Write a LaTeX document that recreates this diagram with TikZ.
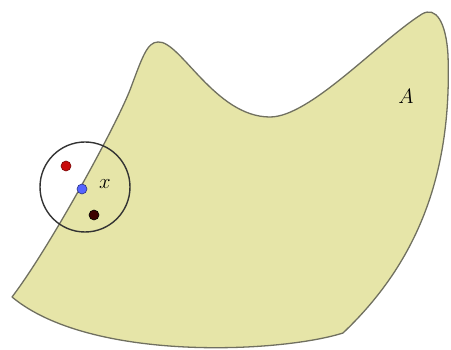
\documentclass[tikz,border=0pt]{standalone}
\usetikzlibrary{calc}
\definecolor{regionfill}{RGB}{230,229,168}
\definecolor{regionline}{RGB}{112,112,96}
\definecolor{ptred}{RGB}{200,10,10}
\definecolor{ptblue}{RGB}{85,100,255}
\definecolor{ptdark}{RGB}{60,0,0}
\tikzset{
  regionstyle/.style={fill=regionfill, draw=regionline, line width=1.3pt, line join=round},
  ballstyle/.style={draw=black!80, line width=1.4pt},
  dotstyle/.style={circle, inner sep=0pt, minimum size=10pt, line width=0.6pt},
  lbl/.style={font=\fontsize{20pt}{22pt}\selectfont, inner sep=0pt}
}
\begin{document}
\begin{tikzpicture}[x=1pt,y=-1pt]
\useasboundingbox (0,0) rectangle (451,350);
\path[regionstyle] (12,297)
  .. controls (48,250) and (114,130) .. (130,90)
  .. controls (142,58) and (147,42) .. (158,42)
  .. controls (180,40) and (215,117) .. (270,117)
  .. controls (310,117) and (378,42) .. (422,14)
  .. controls (436,6) and (446,22) .. (448,55)
  .. controls (452,170) and (420,260) .. (343,333)
  .. controls (280,353) and (90,362) .. (12,297) -- cycle;
\node[circle, ballstyle, minimum size=90pt, inner sep=0pt] (ball) at (85,187) {};
\node[dotstyle, fill=ptred, draw=ptred!60!black] (pr) at (66,166) {};
\node[dotstyle, fill=ptblue, draw=ptblue!50!black] (px) at (82,189) {};
\node[dotstyle, fill=ptdark, draw=black] (pd) at (94,215) {};
\node[lbl] (lx) at (105,184) {$x$};
\node[lbl] (la) at (406,96) {$A$};
\end{tikzpicture}
\end{document}
